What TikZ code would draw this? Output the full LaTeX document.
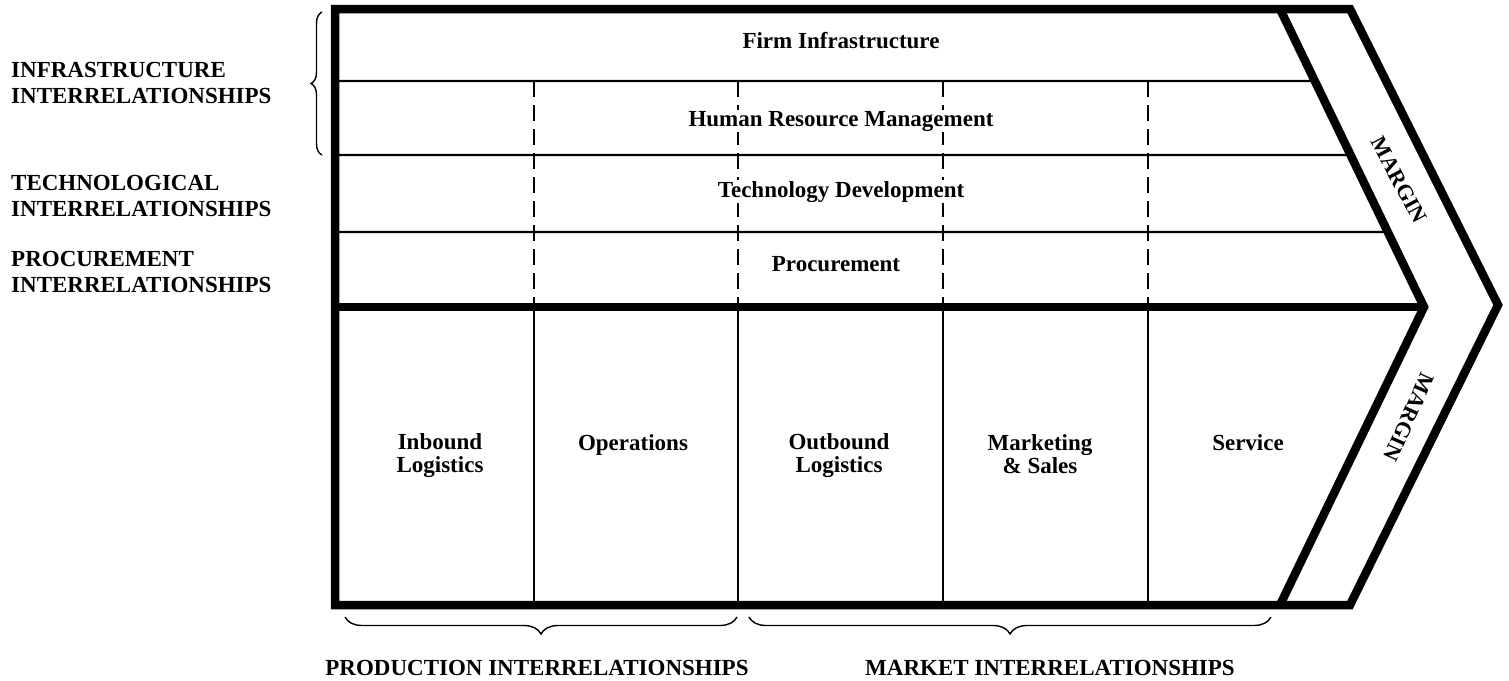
\documentclass[tikz,border=0pt]{standalone}
\usepackage{fontspec}
\setmainfont{Liberation Serif}
\usetikzlibrary{calc,decorations.pathreplacing}
\begin{document}
\begin{tikzpicture}[x=1pt,y=-1pt,line join=miter,
  heavy/.style={line width=8.5pt},
  thinrule/.style={line width=2.2pt},
  dashrule/.style={line width=2.4pt,dash pattern=on 16pt off 8pt},
  lbl/.style={font=\fontsize{23}{23}\selectfont\bfseries,align=center,inner sep=1pt},
  wlbl/.style={lbl,fill=white},
  caplbl/.style={font=\fontsize{23}{25.5}\selectfont\bfseries,align=left,anchor=west,inner sep=0pt},
  botlbl/.style={font=\fontsize{23}{25}\selectfont\bfseries,anchor=base,inner sep=0pt},
  marginlbl/.style={font=\fontsize{22}{22}\selectfont\bfseries,inner sep=0pt},
  bracestyle/.style={decorate,line width=1.4pt}]
\useasboundingbox (0,0) rectangle (1509,680);

% key points
\coordinate (TL) at (335,9);
\coordinate (TR) at (1350,9);
\coordinate (TIP) at (1498,305);
\coordinate (BR) at (1350,605);
\coordinate (BL) at (335,605);
\coordinate (IT) at (1280,9);
\coordinate (ITIP) at (1424,307);
\coordinate (IB) at (1280,605);

% thin row rules in the support activities
\draw[thinrule] (335,81) -- ($(IT)!0.2416!(ITIP)$);
\draw[thinrule] (335,155) -- ($(IT)!0.4899!(ITIP)$);
\draw[thinrule] (335,232) -- ($(IT)!0.7483!(ITIP)$);

% dashed column rules (support) and solid column rules (primary)
\foreach \cx in {534,738,943,1148}{
  \draw[dashrule] (\cx,81) -- (\cx,307);
  \draw[thinrule] (\cx,307) -- (\cx,605);
}

% support labels
\node[lbl,anchor=base] (fi) at (841,48) {Firm Infrastructure};
\node[wlbl,anchor=base] (hrm) at (841,126) {Human Resource Management};
\node[wlbl,anchor=base] (td) at (841,197) {Technology Development};
\node[wlbl,anchor=base] (pr) at (836,271) {Procurement};

% primary labels
\node[lbl] (ib) at (440,456) {Inbound\\Logistics};
\node[lbl,anchor=base] (op) at (633,450) {Operations};
\node[lbl] (ob) at (839,456) {Outbound\\Logistics};
\node[lbl] (ms) at (1040,454) {Marketing\\\& Sales};
\node[lbl,anchor=base] (sv) at (1248,450) {Service};

% heavy outline
\draw[heavy] (TL) -- (TR) -- (TIP) -- (BR) -- (BL) -- cycle;
\draw[heavy] (IT) -- (ITIP) -- (IB);
\draw[heavy] (TL |- ITIP) -- (ITIP);

% margin labels
\node[marginlbl,rotate=-62] (m1) at (1399,180) {MARGIN};
\node[marginlbl,rotate=-114] (m2) at (1409,417) {MARGIN};

% left labels
\node[caplbl] (infra) at (11,83) {INFRASTRUCTURE\\INTERRELATIONSHIPS};
\node[caplbl] (tech) at (11,196) {TECHNOLOGICAL\\INTERRELATIONSHIPS};
\node[caplbl] (proc) at (11,272) {PROCUREMENT\\INTERRELATIONSHIPS};

% braces
\coordinate (lb1) at (322,155);
\coordinate (lb2) at (322,12);
\draw[bracestyle,decoration={brace,amplitude=11pt}] (lb1) -- (lb2);
\coordinate (pb1) at (737,617);
\coordinate (pb2) at (345,617);
\draw[bracestyle,decoration={brace,amplitude=17pt}] (pb1) -- (pb2);
\coordinate (mb1) at (1271,617);
\coordinate (mb2) at (749,617);
\draw[bracestyle,decoration={brace,amplitude=17pt}] (mb1) -- (mb2);

% bottom labels
\node[botlbl] (prod) at (537,675) {PRODUCTION INTERRELATIONSHIPS};
\node[botlbl] (mkt) at (1050,675) {MARKET INTERRELATIONSHIPS};
\end{tikzpicture}
\end{document}
